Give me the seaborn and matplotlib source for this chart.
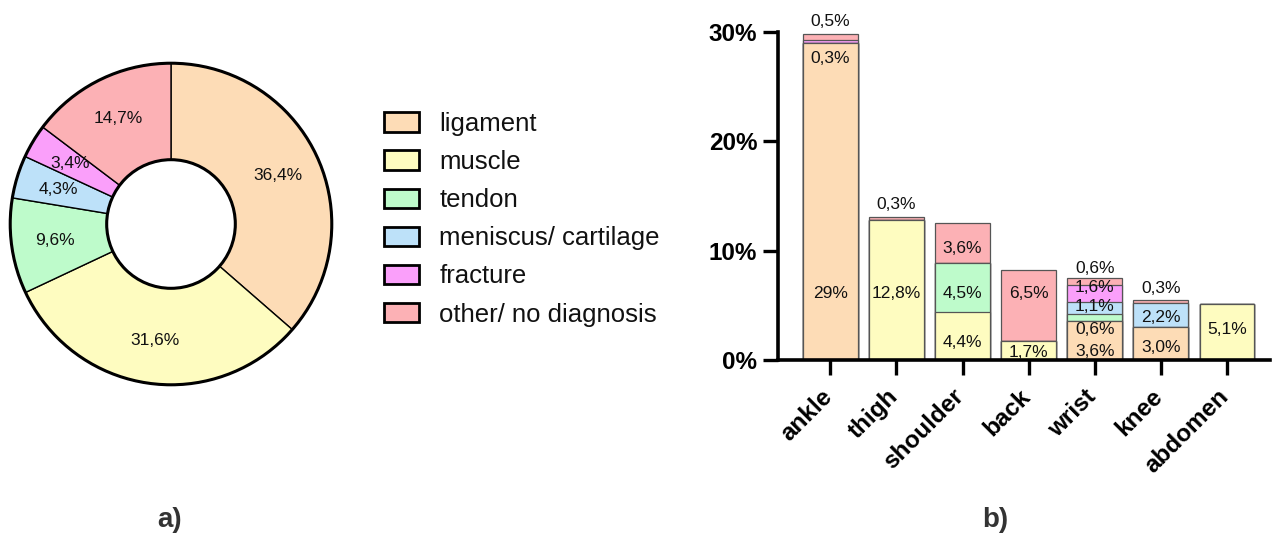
import numpy as np
import pandas as pd
import matplotlib.pyplot as plt
import matplotlib.transforms as mtrans
import seaborn as sns
from matplotlib.patches import Patch, Circle

sns.set_theme(style='white')
plt.rcParams['font.family'] = ['Liberation Sans', 'DejaVu Sans']
plt.rcParams['text.color'] = 'black'
plt.rcParams['xtick.color'] = 'black'
plt.rcParams['ytick.color'] = 'black'

# ---------------------------------------------------------------- data
types = ['ligament', 'muscle', 'tendon', 'meniscus/ cartilage', 'fracture', 'other/ no diagnosis']
overall = [36.4, 31.6, 9.6, 4.3, 3.4, 14.7]

regions = ['ankle', 'thigh', 'shoulder', 'back', 'wrist', 'knee', 'abdomen']
ligament = [29.0, 0, 0, 0, 3.6, 3.0, 0]
muscle = [0, 12.8, 4.4, 1.7, 0, 0, 5.1]
tendon = [0, 0, 4.5, 0, 0.6, 0, 0]
meniscus = [0, 0, 0, 0, 1.1, 2.2, 0]
fracture = [0.3, 0, 0, 0, 1.6, 0, 0]
other = [0.5, 0.3, 3.6, 6.5, 0.6, 0.3, 0]

# ---------------------------------------------------------------- style
colors = ['#FDDCB6', '#FEFCC0', '#BEFBCB', '#BDE1F9', '#FA9FFA', '#FCB1B5']
fs_lab = 12.5

# where the value labels sit (in % units), GraphPad-like placement
label_y = {
    ('ankle', 0): 6.1, ('ankle', 4): 27.6, ('ankle', 5): 31.0,
    ('thigh', 1): 6.1, ('thigh', 5): 14.2,
    ('shoulder', 1): 1.6, ('shoulder', 2): 6.1, ('shoulder', 5): 10.2,
    ('back', 1): 0.7, ('back', 5): 6.1,
    ('wrist', 0): 0.8, ('wrist', 2): 2.75, ('wrist', 3): 4.85, ('wrist', 4): 6.6, ('wrist', 5): 8.4,
    ('knee', 0): 1.1, ('knee', 3): 3.9, ('knee', 5): 6.5,
    ('abdomen', 1): 2.75,
}

def pct(v):
    s = ('%.1f' % v).replace('.', ',')
    if s.endswith(',0') and v >= 10:
        s = s[:-2]
    return s + '%'

fig = plt.figure(figsize=(12.8, 5.37), dpi=100)

##############################################################################
# a) donut
##############################################################################
axp = fig.add_axes([7/1280, 1-388/537, 328/1280, 328/537])
axp.pie(overall, colors=colors, startangle=90, counterclock=False,
        radius=1.0, pctdistance=0.73,
        autopct=lambda p: ('%.1f%%' % p).replace('.', ','),
        wedgeprops=dict(width=0.6, edgecolor='black', linewidth=1.0),
        textprops=dict(fontsize=fs_lab, color='#111111'))
axp.add_patch(Circle((0, 0), 1.0, fill=False, ec='black', lw=2.2))
axp.add_patch(Circle((0, 0), 0.4, fill=False, ec='black', lw=2.2))
axp.set_xlim(-1.02, 1.02)
axp.set_ylim(-1.02, 1.02)
axp.set_aspect('equal')
axp.axis('off')

handles = [Patch(fc=c, ec='black', lw=2, label=t) for c, t in zip(colors, types)]
fig.legend(handles=handles, loc='upper left', bbox_to_anchor=(371/1280, 1-99/537),
           frameon=False, fontsize=18.5, borderpad=0, handlelength=1.36,
           handleheight=0.78, handletextpad=0.8, labelspacing=0.55,
           labelcolor='#111111')

##############################################################################
# b) stacked bars
##############################################################################
axb = fig.add_axes([778/1280, 1-360/537, 492/1280, 328/537])
layers = np.array([ligament, muscle, tendon, meniscus, fracture, other])
cum = np.cumsum(layers, axis=0)
# draw from the tallest cumulative layer down so lower layers overlap
for i in range(len(types)-1, -1, -1):
    sns.barplot(x=regions, y=cum[i], color=colors[i], saturation=1, width=0.83,
                edgecolor='#555555', linewidth=0.9, ax=axb)

for (reg, k), yy in label_y.items():
    j = regions.index(reg)
    axb.text(j, yy, pct(layers[k][j]), ha='center', va='center',
             fontsize=fs_lab, color='#111111')

axb.set_xlim(-0.79, 6.65)
axb.set_ylim(0, 30)
axb.set_yticks([0, 10, 20, 30])
axb.set_yticklabels(['0%', '10%', '20%', '30%'], fontsize=17.5, fontweight='bold')
axb.set_xticks(range(len(regions)))
axb.set_xticklabels(regions, rotation=45, ha='right', rotation_mode='anchor',
                    fontsize=17.5, fontweight='bold')
axb.tick_params(axis='both', direction='out', length=11, width=2.4, color='black',
                labelcolor='black', bottom=True, left=True, pad=4)
axb.tick_params(axis='x', pad=7)
shift = mtrans.ScaledTranslation(-0.1, 0, fig.dpi_scale_trans)
for lbl in axb.get_xticklabels():
    lbl.set_transform(lbl.get_transform() + shift)
sns.despine(ax=axb)
for sp in ['left', 'bottom']:
    axb.spines[sp].set_linewidth(2.6)
    axb.spines[sp].set_color('black')
axb.set_xlabel('')
axb.set_ylabel('')

fig.text(170/1280, 1-520/537, 'a)', ha='center', va='center', fontsize=20,
         fontweight='bold', color='#333333')
fig.text(995/1280, 1-520/537, 'b)', ha='center', va='center', fontsize=20,
         fontweight='bold', color='#333333')

plt.savefig('out.png', dpi=100)
